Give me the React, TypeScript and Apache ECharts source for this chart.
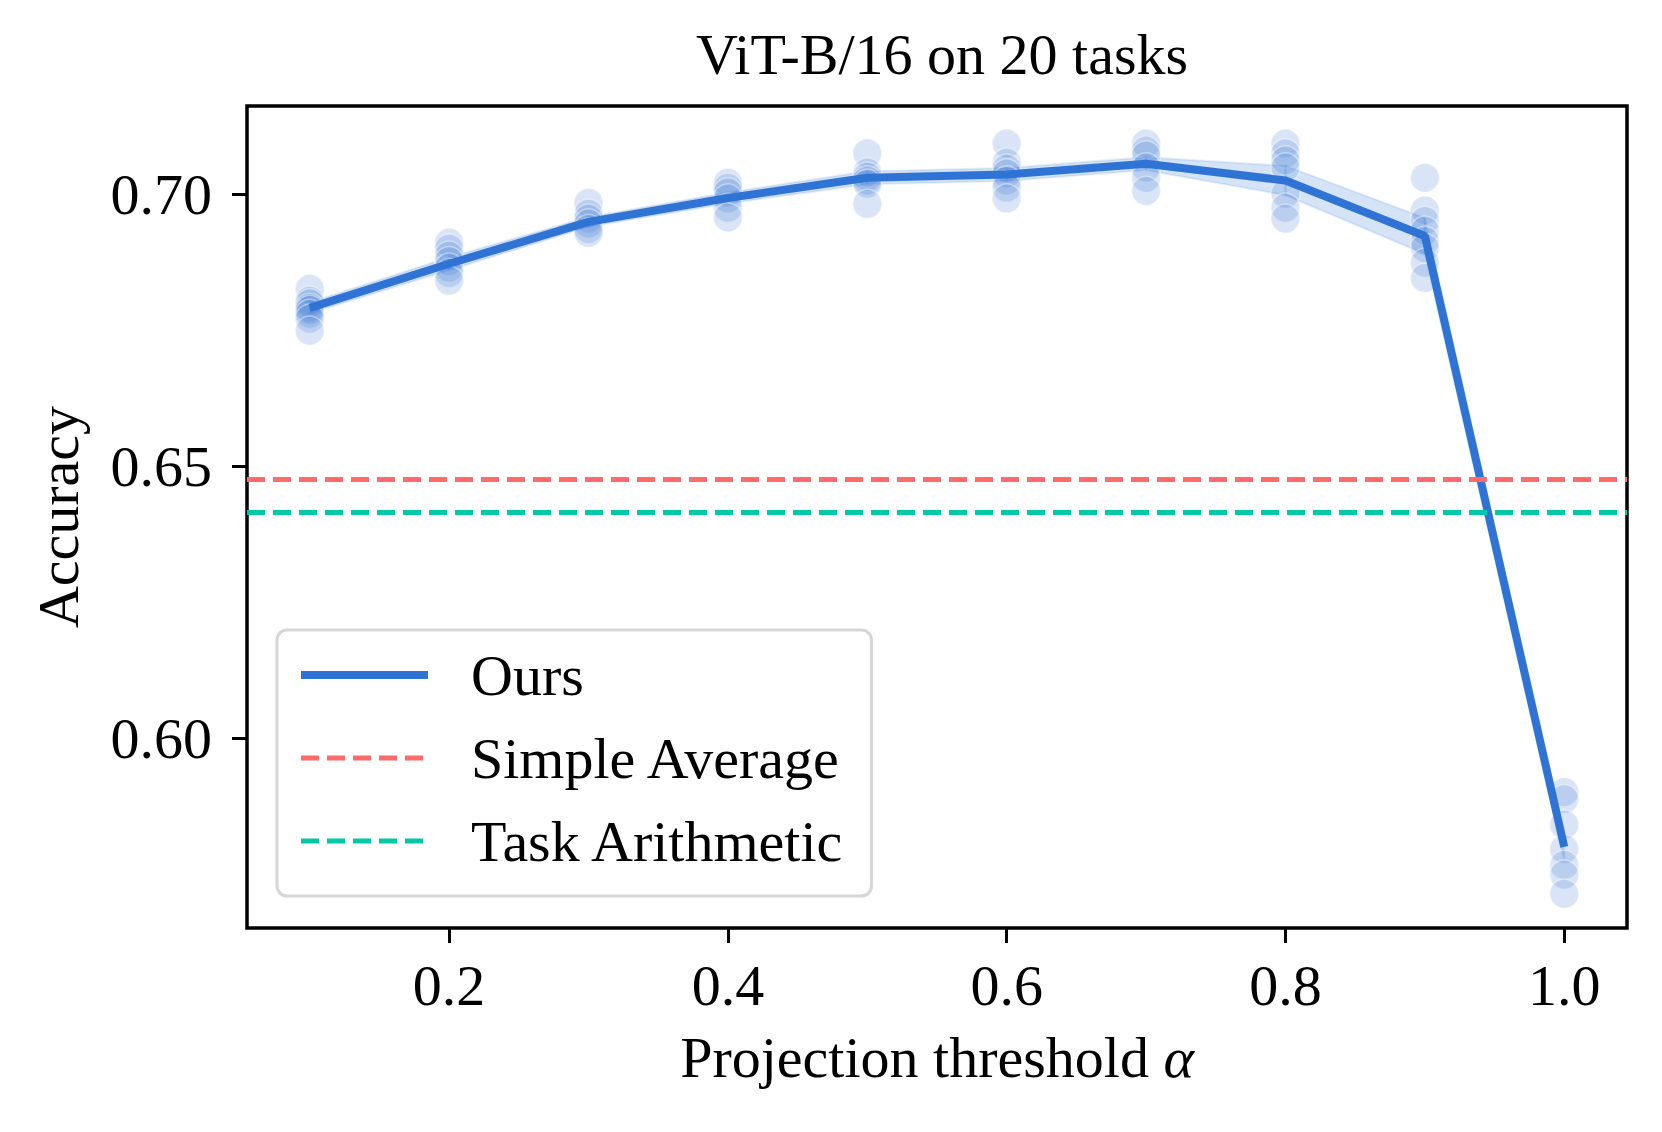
import React, { useEffect, useRef } from "react";
import * as echarts from "echarts";

const thresholds = [0.1, 0.2, 0.3, 0.4, 0.5, 0.6, 0.7, 0.8, 0.9, 1.0];
const meanAcc = [0.6792, 0.6873, 0.695, 0.6994, 0.7031, 0.7037, 0.7057, 0.7026, 0.6924, 0.5801];
const bandLow = [0.6782, 0.6861, 0.6941, 0.6984, 0.7019, 0.7025, 0.7045, 0.6999, 0.6891, 0.5776];
const bandHigh = [0.6802, 0.6885, 0.6959, 0.7004, 0.7043, 0.7049, 0.7069, 0.7053, 0.6957, 0.5826];

const runs01 = [0.6827, 0.6805, 0.68, 0.6792, 0.6788, 0.6781, 0.6772, 0.675];
const runs02 = [0.6912, 0.6901, 0.6888, 0.6878, 0.6866, 0.6856, 0.6842];
const runs03 = [0.6985, 0.6965, 0.6956, 0.6947, 0.6937, 0.693];
const runs04 = [0.7022, 0.7013, 0.7004, 0.6993, 0.6976, 0.6958];
const runs05 = [0.7076, 0.7041, 0.7033, 0.7026, 0.702, 0.6983];
const runs06 = [0.7094, 0.7059, 0.7048, 0.7039, 0.7026, 0.7013, 0.6993];
const runs07 = [0.7094, 0.7081, 0.7072, 0.705, 0.7031, 0.7007];
const runs08 = [0.7094, 0.7076, 0.7063, 0.705, 0.7002, 0.6976, 0.6956];
const runs09 = [0.7031, 0.6971, 0.6952, 0.6934, 0.6915, 0.6902, 0.6875, 0.6847];
const runs10 = [0.5902, 0.5889, 0.5842, 0.5797, 0.5768, 0.575, 0.5715];
const runsByThreshold = [runs01, runs02, runs03, runs04, runs05, runs06, runs07, runs08, runs09, runs10];

const simpleAverage = 0.6476;
const taskArithmetic = 0.6416;

const xTicks = [0.2, 0.4, 0.6, 0.8, 1.0];
const yTicks = [0.6, 0.65, 0.7];

const FONT = "Liberation Serif";
const BLUE = "#2f74d4";
const RED = "#ff6b6b";
const TEAL = "#00c9a7";

export default function App() {
  const ref = useRef<HTMLDivElement>(null);
  useEffect(() => {
    document.body.style.margin = "0";
    const chart = echarts.init(ref.current!, null, { renderer: "svg" });
    const scatterData: number[][] = [];
    runsByThreshold.forEach((arr, i) => arr.forEach((v) => scatterData.push([thresholds[i], v])));
    const option: any = {
      animation: false,
      backgroundColor: "#ffffff",
      textStyle: { fontFamily: FONT },
      title: {
        text: "ViT-B/16 on 20 tasks",
        left: 937,
        textAlign: "center",
        top: 20,
        textStyle: { fontFamily: FONT, fontSize: 58, fontWeight: "normal", color: "#000" },
      },
      grid: {
        left: 247,
        top: 106,
        width: 1380,
        height: 822,
        show: true,
        borderColor: "#000",
        borderWidth: 3.5,
        backgroundColor: "transparent",
      },
      legend: {
        left: 277,
        top: 630,
        orient: "vertical",
        data: ["Ours", "Simple Average", "Task Arithmetic"],
        itemWidth: 127,
        itemHeight: 14,
        itemGap: 25,
        padding: [16, 26, 26, 20],
        borderColor: "#d6d6d6",
        borderWidth: 3,
        borderRadius: 10,
        backgroundColor: "rgba(255,255,255,0.8)",
        itemStyle: { opacity: 0, borderWidth: 0 },
        lineStyle: { width: "inherit", type: "inherit", opacity: 1 },
        textStyle: { fontFamily: FONT, fontSize: 58, color: "#000", padding: [0, 0, 0, 38] },
      },
      xAxis: {
        type: "value",
        min: 0.055,
        max: 1.045,
        splitLine: { show: false },
        axisLine: { show: false },
        axisTick: {
          show: true,
          length: 15,
          lineStyle: { color: "#000", width: 3 },
          customValues: xTicks,
        },
        axisLabel: {
          fontFamily: FONT,
          fontSize: 58,
          color: "#000",
          margin: 28,
          customValues: xTicks,
          formatter: (v: number) => v.toFixed(1),
        },
        name: "Projection threshold {i|α}",
        nameLocation: "middle",
        nameGap: 100,
        nameTextStyle: {
          fontFamily: FONT,
          fontSize: 58,
          color: "#000",
          rich: { i: { fontFamily: FONT, fontSize: 58, fontStyle: "italic", color: "#000" } },
        },
      },
      yAxis: {
        type: "value",
        min: 0.5652,
        max: 0.7163,
        splitLine: { show: false },
        axisLine: { show: false },
        axisTick: {
          show: true,
          length: 15,
          lineStyle: { color: "#000", width: 3 },
          customValues: yTicks,
        },
        axisLabel: {
          fontFamily: FONT,
          fontSize: 58,
          color: "#000",
          margin: 35,
          customValues: yTicks,
          formatter: (v: number) => v.toFixed(2),
        },
        name: "Accuracy",
        nameLocation: "middle",
        nameGap: 160,
        nameTextStyle: { fontFamily: FONT, fontSize: 58, color: "#000" },
      },
      series: [
        {
          name: "band",
          type: "custom",
          silent: true,
          z: 1,
          data: thresholds.slice(0, thresholds.length - 1).map((_, i) => i),
          renderItem: (params: any, api: any) => {
            const i = api.value(0);
            const p0 = api.coord([thresholds[i], bandLow[i]]);
            const p1 = api.coord([thresholds[i + 1], bandLow[i + 1]]);
            const p2 = api.coord([thresholds[i + 1], bandHigh[i + 1]]);
            const p3 = api.coord([thresholds[i], bandHigh[i]]);
            return {
              type: "polygon",
              shape: { points: [p0, p1, p2, p3] },
              style: { fill: "rgba(47,116,212,0.2)", stroke: "rgba(47,116,212,0.12)", lineWidth: 2 },
            };
          },
        },
        {
          name: "runs",
          type: "scatter",
          z: 2,
          symbolSize: 29,
          data: scatterData,
          itemStyle: {
            color: "rgba(47,116,212,0.23)",
            borderColor: "rgba(255,255,255,0.5)",
            borderWidth: 1.5,
          },
        },
        {
          name: "Ours",
          type: "line",
          z: 4,
          symbol: "none",
          data: thresholds.map((x, i) => [x, meanAcc[i]]),
          lineStyle: { color: BLUE, width: 8 },
          itemStyle: { color: BLUE },
        },
        {
          name: "Simple Average",
          type: "line",
          z: 3,
          symbol: "none",
          data: [],
          lineStyle: { color: RED, width: 5, type: [18, 8] },
          itemStyle: { color: RED },
          markLine: {
            silent: true,
            symbol: "none",
            precision: 4,
            label: { show: false },
            lineStyle: { color: RED, width: 5, type: [18, 8] },
            data: [{ yAxis: simpleAverage }],
          },
        },
        {
          name: "Task Arithmetic",
          type: "line",
          z: 3,
          symbol: "none",
          data: [],
          lineStyle: { color: TEAL, width: 5, type: [18, 8] },
          itemStyle: { color: TEAL },
          markLine: {
            silent: true,
            symbol: "none",
            precision: 4,
            label: { show: false },
            lineStyle: { color: TEAL, width: 5, type: [18, 8] },
            data: [{ yAxis: taskArithmetic }],
          },
        },
      ],
    };
    chart.setOption(option);
    return () => chart.dispose();
  }, []);
  return <div ref={ref} style={{ width: 1662, height: 1132 }} />;
}
